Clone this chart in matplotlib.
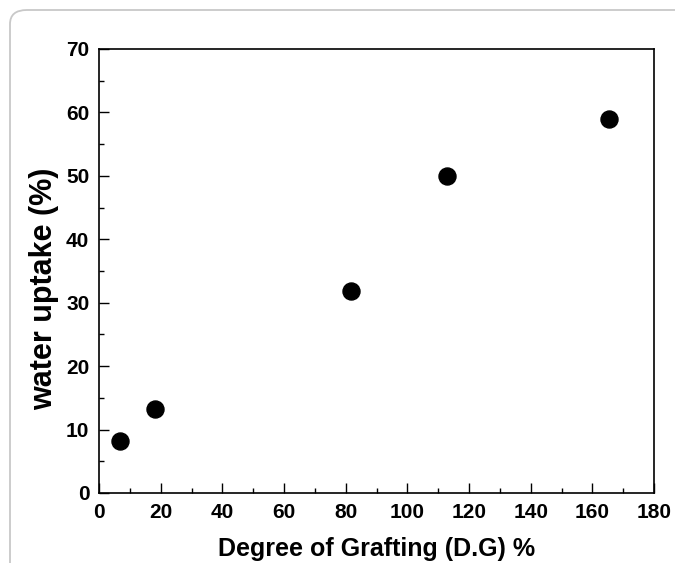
import matplotlib.pyplot as plt
from matplotlib.patches import FancyBboxPatch
from matplotlib.ticker import MultipleLocator

# Data
degree_grafting = [6.8, 18.2, 81.7, 112.9, 165.4]
water_uptake = [8.2, 13.2, 31.8, 50.0, 59.0]

plt.rcParams['font.family'] = ['Liberation Sans', 'DejaVu Sans']
plt.rcParams['font.weight'] = 'bold'

fig = plt.figure(figsize=(6.75, 5.63), dpi=100)

# light rounded frame around the picture
frame = FancyBboxPatch((10 / 675, -0.2), 1.2, 1.2 - 10 / 563,
                       boxstyle='round,pad=0,rounding_size=0.025',
                       transform=fig.transFigure, facecolor='none',
                       edgecolor='#c8c8c8', linewidth=1.3, zorder=0)
fig.patches.append(frame)

ax = fig.add_axes([99 / 675, 70 / 563, 555 / 675, 444 / 563])

ax.scatter(degree_grafting, water_uptake, s=150, color='black', zorder=3)

ax.set_xlim(0, 180)
ax.set_ylim(0, 70)
ax.xaxis.set_major_locator(MultipleLocator(20))
ax.xaxis.set_minor_locator(MultipleLocator(10))
ax.yaxis.set_major_locator(MultipleLocator(10))
ax.yaxis.set_minor_locator(MultipleLocator(5))

ax.tick_params(which='both', direction='in', top=False, right=False, width=1)
ax.tick_params(which='major', length=7, labelsize=15)
ax.tick_params(axis='x', which='major', pad=7)
ax.tick_params(axis='y', which='major', pad=7)
ax.tick_params(which='minor', length=3.5)
for lab in ax.get_xticklabels() + ax.get_yticklabels():
    lab.set_fontweight('bold')

for sp in ax.spines.values():
    sp.set_linewidth(1.2)

ax.set_xlabel('Degree of Grafting (D.G) %', fontsize=18, fontweight='bold')
ax.set_ylabel('water uptake (%)', fontsize=22, fontweight='bold')
ax.xaxis.set_label_coords(0.5, -(549 - 493) / 444, transform=ax.transAxes)
ax.xaxis.label.set_va('center')
ax.yaxis.set_label_coords(-(99 - 44) / 555, (493 - 289) / 444, transform=ax.transAxes)
ax.yaxis.label.set_va('center')

fig.savefig('out.png', dpi=100)
